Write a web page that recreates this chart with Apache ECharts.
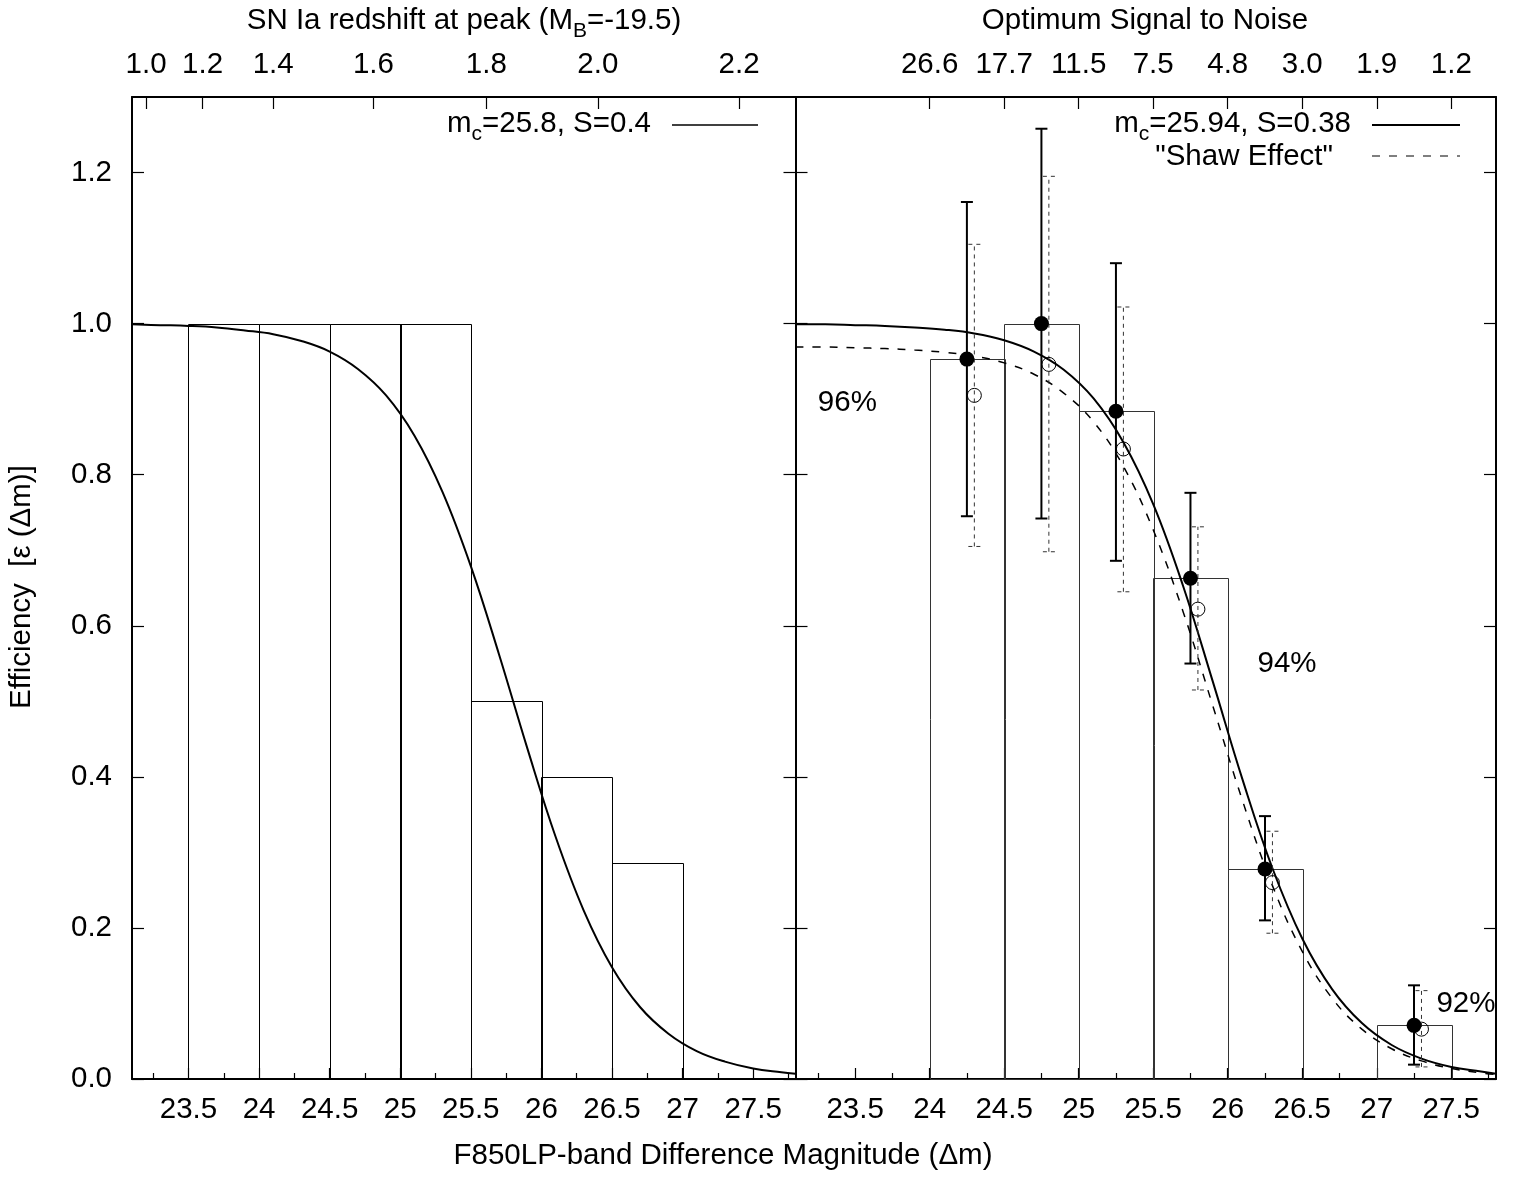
<!DOCTYPE html>
<html>
<head>
<meta charset="utf-8">
<script src="https://cdn.jsdelivr.net/npm/echarts@6/dist/echarts.min.js"></script>
<style>
  html, body { margin: 0; padding: 0; background: #fff; }
  #chart { width: 1525px; height: 1177px; }
</style>
</head>
<body>
<div id="chart"></div>
<script>
// ---- fitted efficiency curves, sampled along the magnitude axis ----
const fitMag   = [23.1, 23.3, 23.5, 23.7, 23.9, 24.1, 24.3, 24.5, 24.7, 24.9, 25.1, 25.3, 25.5, 25.7, 25.9, 26.1, 26.3, 26.5, 26.7, 26.9, 27.1, 27.3, 27.5, 27.7, 27.8];
const leftFit  = [0.999, 0.998, 0.997, 0.995, 0.991, 0.986, 0.977, 0.963, 0.940, 0.905, 0.852, 0.777, 0.679, 0.562, 0.438, 0.321, 0.223, 0.148, 0.095, 0.060, 0.037, 0.023, 0.014, 0.009, 0.007];
const rightFit = [0.999, 0.999, 0.998, 0.997, 0.995, 0.992, 0.987, 0.978, 0.963, 0.939, 0.901, 0.843, 0.761, 0.653, 0.526, 0.396, 0.279, 0.186, 0.119, 0.074, 0.045, 0.027, 0.016, 0.010, 0.007];
const shawFit  = [0.969, 0.969, 0.968, 0.967, 0.965, 0.962, 0.957, 0.948, 0.933, 0.908, 0.870, 0.811, 0.727, 0.619, 0.494, 0.368, 0.256, 0.169, 0.107, 0.066, 0.040, 0.024, 0.014, 0.008, 0.006];

// ---- binned efficiencies (bin start, 0.5 mag wide) ----
const binWidth = 0.5;
const leftBinStart  = [23.5, 24.0, 24.5, 25.0, 25.5, 26.0, 26.5];
const leftBinEff    = [1.0, 1.0, 1.0, 1.0, 0.5, 0.4, 0.286];
const rightBinStart = [24.0, 24.5, 25.0, 25.5, 26.0, 27.0];
const rightBinEff   = [0.953, 1.0, 0.884, 0.663, 0.278, 0.071];

// ---- measured points with error bars ----
const measMag = [24.25, 24.75, 25.25, 25.75, 26.25, 27.25];
const measEff = [0.953, 1.0, 0.884, 0.663, 0.278, 0.071];
const measLo  = [0.745, 0.742, 0.686, 0.550, 0.210, 0.019];
const measHi  = [1.161, 1.258, 1.080, 0.776, 0.348, 0.124];

// ---- "Shaw effect" corrected points ----
const shawMag = [24.30, 24.80, 25.30, 25.80, 26.30, 27.30];
const shawEff = [0.905, 0.946, 0.834, 0.622, 0.260, 0.066];
const shawLo  = [0.705, 0.698, 0.645, 0.515, 0.193, 0.016];
const shawHi  = [1.105, 1.195, 1.022, 0.731, 0.328, 0.117];

// ---- axis ticks and labels ----
const magTicks      = [23.5, 24, 24.5, 25, 25.5, 26, 26.5, 27, 27.5];
const magMinorTicks = [23.25, 23.75, 24.25, 24.75, 25.25, 25.75, 26.25, 26.75, 27.25, 27.75];
const effTicks      = [0, 0.2, 0.4, 0.6, 0.8, 1.0, 1.2];
const redshiftTickMag = [23.2, 23.6, 24.1, 24.81, 25.61, 26.40, 27.40];
const redshiftLabels  = ['1.0', '1.2', '1.4', '1.6', '1.8', '2.0', '2.2'];
const snrTickMag = [24.0, 24.5, 25.0, 25.5, 26.0, 26.5, 27.0, 27.5];
const snrLabels  = ['26.6', '17.7', '11.5', '7.5', '4.8', '3.0', '1.9', '1.2'];

// completeness notes, anchored in magnitude / efficiency units of the right panel
const percentText = ['96%', '94%', '92%'];
const percentMag  = [23.25, 26.20, 27.40];
const percentEff  = [0.895, 0.549, 0.100];

const MAG_MIN = 23.1, MAG_MAX = 27.8, EFF_MIN = 0, EFF_MAX = 1.3;
const FONT = '"Liberation Sans", Arial, Helvetica, sans-serif';
const FS = 29.5;

const chart = echarts.init(document.getElementById('chart'), null, { renderer: 'canvas' });

const zip = (a, b) => a.map((v, i) => [v, b[i]]);
const zip3 = (a, b, c) => a.map((v, i) => [v, b[i], c[i]]);

function binRender(color) {
  return function (params, api) {
    const x0 = api.value(0), h = api.value(1);
    const p0 = api.coord([x0, 0]);
    const p1 = api.coord([x0 + binWidth, h]);
    return {
      type: 'rect',
      shape: { x: Math.round(p0[0]) + 0.5, y: Math.round(p1[1]) + 0.5, width: Math.round(p1[0] - p0[0]), height: Math.round(p0[1] - p1[1]) },
      style: { fill: 'none', stroke: color, lineWidth: 1 }
    };
  };
}

function errRender(dashed) {
  return function (params, api) {
    const x = api.value(0), lo = api.value(1), hi = api.value(2);
    const pl = api.coord([x, lo]), ph = api.coord([x, hi]);
    const cap = 6;
    const style = dashed
      ? { stroke: '#333', lineWidth: 1, lineDash: [4, 4] }
      : { stroke: '#000', lineWidth: 2 };
    return {
      type: 'group',
      children: [
        { type: 'line', shape: { x1: pl[0], y1: pl[1], x2: ph[0], y2: ph[1] }, style },
        { type: 'line', shape: { x1: pl[0] - cap, y1: pl[1], x2: pl[0] + cap, y2: pl[1] }, style },
        { type: 'line', shape: { x1: ph[0] - cap, y1: ph[1], x2: ph[0] + cap, y2: ph[1] }, style }
      ]
    };
  };
}

// text helpers (subscripts are built from separate pieces)
const mctx = document.createElement('canvas').getContext('2d');
function textW(s, size) { mctx.font = size + 'px ' + FONT; return mctx.measureText(s).width; }
function richText(parts, x, y, align) {
  const SUB = 21;
  const widths = parts.map(p => textW(p.t, p.sub ? SUB : FS));
  const total = widths.reduce((a, b) => a + b, 0);
  let cx = align === 'right' ? x - total : align === 'center' ? x - total / 2 : x;
  const out = [];
  parts.forEach((p, i) => {
    out.push({
      type: 'text', silent: true,
      style: {
        text: p.t, x: cx, y: p.sub ? y + 10 : y,
        font: (p.sub ? SUB : FS) + 'px ' + FONT, fill: '#000',
        textAlign: 'left', textVerticalAlign: 'middle'
      }
    });
    cx += widths[i];
  });
  return out;
}
function plainText(t, x, y, align, rot) {
  return {
    type: 'text', silent: true, x: x, y: y, rotation: rot || 0,
    style: { text: t, x: 0, y: 0, font: FS + 'px ' + FONT, fill: '#000', textAlign: align, textVerticalAlign: 'middle' }
  };
}

const axisLineStyle = { show: true, lineStyle: { color: '#000', width: 2 } };
const tickStyle = { color: '#000', width: 1.2 };
const labelStyle = { color: '#000', fontSize: FS, fontFamily: FONT };

function magAxis(grid) {
  return [
    {
      type: 'value', gridIndex: grid, position: 'bottom', min: MAG_MIN, max: MAG_MAX,
      axisLine: Object.assign({ onZero: false }, axisLineStyle),
      axisTick: { show: true, inside: true, length: 11, lineStyle: tickStyle, customValues: magTicks },
      axisLabel: Object.assign({ show: true, margin: 16, customValues: magTicks }, labelStyle),
      splitLine: { show: false }
    },
    {
      type: 'value', gridIndex: grid, position: 'bottom', min: MAG_MIN, max: MAG_MAX,
      axisLine: { show: false, onZero: false },
      axisTick: { show: true, inside: true, length: 6, lineStyle: tickStyle, customValues: magMinorTicks },
      axisLabel: { show: false },
      splitLine: { show: false }
    }
  ];
}
function topAxis(grid, ticks, labels) {
  return {
    type: 'value', gridIndex: grid, position: 'top', min: MAG_MIN, max: MAG_MAX,
    axisLine: Object.assign({ onZero: false }, axisLineStyle),
    axisTick: { show: true, inside: true, length: 12, lineStyle: tickStyle, customValues: ticks },
    axisLabel: Object.assign({
      show: true, margin: 17, customValues: ticks,
      formatter: v => { const i = ticks.findIndex(t => Math.abs(t - v) < 1e-6); return i >= 0 ? labels[i] : ''; }
    }, labelStyle),
    splitLine: { show: false }
  };
}
function effAxis(grid, pos, showLabel) {
  return {
    type: 'value', gridIndex: grid, position: pos, min: EFF_MIN, max: EFF_MAX,
    axisLine: Object.assign({ onZero: false }, axisLineStyle),
    axisTick: { show: true, inside: true, length: 12, lineStyle: tickStyle, customValues: effTicks },
    axisLabel: Object.assign({
      show: showLabel, margin: 20, customValues: effTicks,
      formatter: v => v.toFixed(1)
    }, labelStyle),
    splitLine: { show: false }
  };
}

const option = {
  animation: false,
  backgroundColor: '#fff',
  grid: [
    { left: 132, top: 97, width: 663.5, height: 982 },
    { left: 795.5, top: 97, width: 700.5, height: 982 }
  ],
  xAxis: [
    ...magAxis(0),                                   // 0,1
    topAxis(0, redshiftTickMag, redshiftLabels),     // 2
    ...magAxis(1),                                   // 3,4
    topAxis(1, snrTickMag, snrLabels)                // 5
  ],
  yAxis: [
    effAxis(0, 'left', true),   // 0
    effAxis(0, 'right', false), // 1
    effAxis(1, 'left', false),  // 2
    effAxis(1, 'right', false)  // 3
  ],
  series: [
    {
      type: 'custom', name: 'left bins', xAxisIndex: 0, yAxisIndex: 0, z: 1,
      renderItem: binRender('#000'), data: zip(leftBinStart, leftBinEff)
    },
    {
      type: 'line', name: 'mc=25.8, S=0.4', xAxisIndex: 0, yAxisIndex: 0, z: 2,
      data: zip(fitMag, leftFit), showSymbol: false, smooth: 0.4,
      lineStyle: { color: '#000', width: 2 }
    },
    {
      type: 'custom', name: 'right bins', xAxisIndex: 3, yAxisIndex: 2, z: 1,
      renderItem: binRender('#333'), data: zip(rightBinStart, rightBinEff)
    },
    {
      type: 'line', name: 'mc=25.94, S=0.38', xAxisIndex: 3, yAxisIndex: 2, z: 2,
      data: zip(fitMag, rightFit), showSymbol: false, smooth: 0.4,
      lineStyle: { color: '#000', width: 2 }
    },
    {
      type: 'line', name: 'Shaw Effect', xAxisIndex: 3, yAxisIndex: 2, z: 2,
      data: zip(fitMag, shawFit), showSymbol: false, smooth: 0.4,
      lineStyle: { color: '#000', width: 1.5, type: [8, 9] }
    },
    {
      type: 'custom', name: 'shaw errors', xAxisIndex: 3, yAxisIndex: 2, z: 3,
      renderItem: errRender(true), data: zip3(shawMag, shawLo, shawHi)
    },
    {
      type: 'custom', name: 'errors', xAxisIndex: 3, yAxisIndex: 2, z: 3,
      renderItem: errRender(false), data: zip3(measMag, measLo, measHi)
    },
    {
      type: 'scatter', name: 'shaw points', xAxisIndex: 3, yAxisIndex: 2, z: 4,
      data: zip(shawMag, shawEff), symbol: 'circle', symbolSize: 14,
      itemStyle: { color: 'rgba(255,255,255,0)', borderColor: '#000', borderWidth: 1, opacity: 1 }
    },
    {
      type: 'scatter', name: 'points', xAxisIndex: 3, yAxisIndex: 2, z: 5,
      data: zip(measMag, measEff), symbol: 'circle', symbolSize: 15,
      itemStyle: { color: '#000', opacity: 1 }
    }
  ],
  graphic: []
};

chart.setOption(option);

// annotations placed through the right panel's own scales
const pctGraphics = percentText.map((t, i) => {
  const pt = chart.convertToPixel({ xAxisIndex: 3, yAxisIndex: 2 }, [percentMag[i], percentEff[i]]);
  return plainText(t, pt[0], pt[1], 'left');
});

const graphics = [
  // panel titles
  ...richText([{ t: 'SN Ia redshift at peak (M' }, { t: 'B', sub: true }, { t: '=-19.5)' }], 464, 21, 'center'),
  plainText('Optimum Signal to Noise', 1145, 21, 'center'),
  // axis titles
  plainText('F850LP-band Difference Magnitude (\u0394m)', 723, 1156, 'center'),
  plainText('Efficiency  [\u03b5 (\u0394m)]', 22, 587, 'center', Math.PI / 2),
  // legends
  ...richText([{ t: 'm' }, { t: 'c', sub: true }, { t: '=25.8, S=0.4' }], 651, 124, 'right'),
  { type: 'line', silent: true, shape: { x1: 672, y1: 125, x2: 758, y2: 125 }, style: { stroke: '#000', lineWidth: 1.6 } },
  ...richText([{ t: 'm' }, { t: 'c', sub: true }, { t: '=25.94, S=0.38' }], 1351, 124, 'right'),
  { type: 'line', silent: true, shape: { x1: 1372, y1: 125, x2: 1460, y2: 125 }, style: { stroke: '#000', lineWidth: 1.8 } },
  plainText('"Shaw Effect"', 1333, 157, 'right'),
  { type: 'line', silent: true, shape: { x1: 1372, y1: 156, x2: 1460, y2: 156 }, style: { stroke: '#000', lineWidth: 1.2, lineDash: [8, 9] } },
  ...pctGraphics
];

chart.setOption({ graphic: graphics });
</script>
</body>
</html>
